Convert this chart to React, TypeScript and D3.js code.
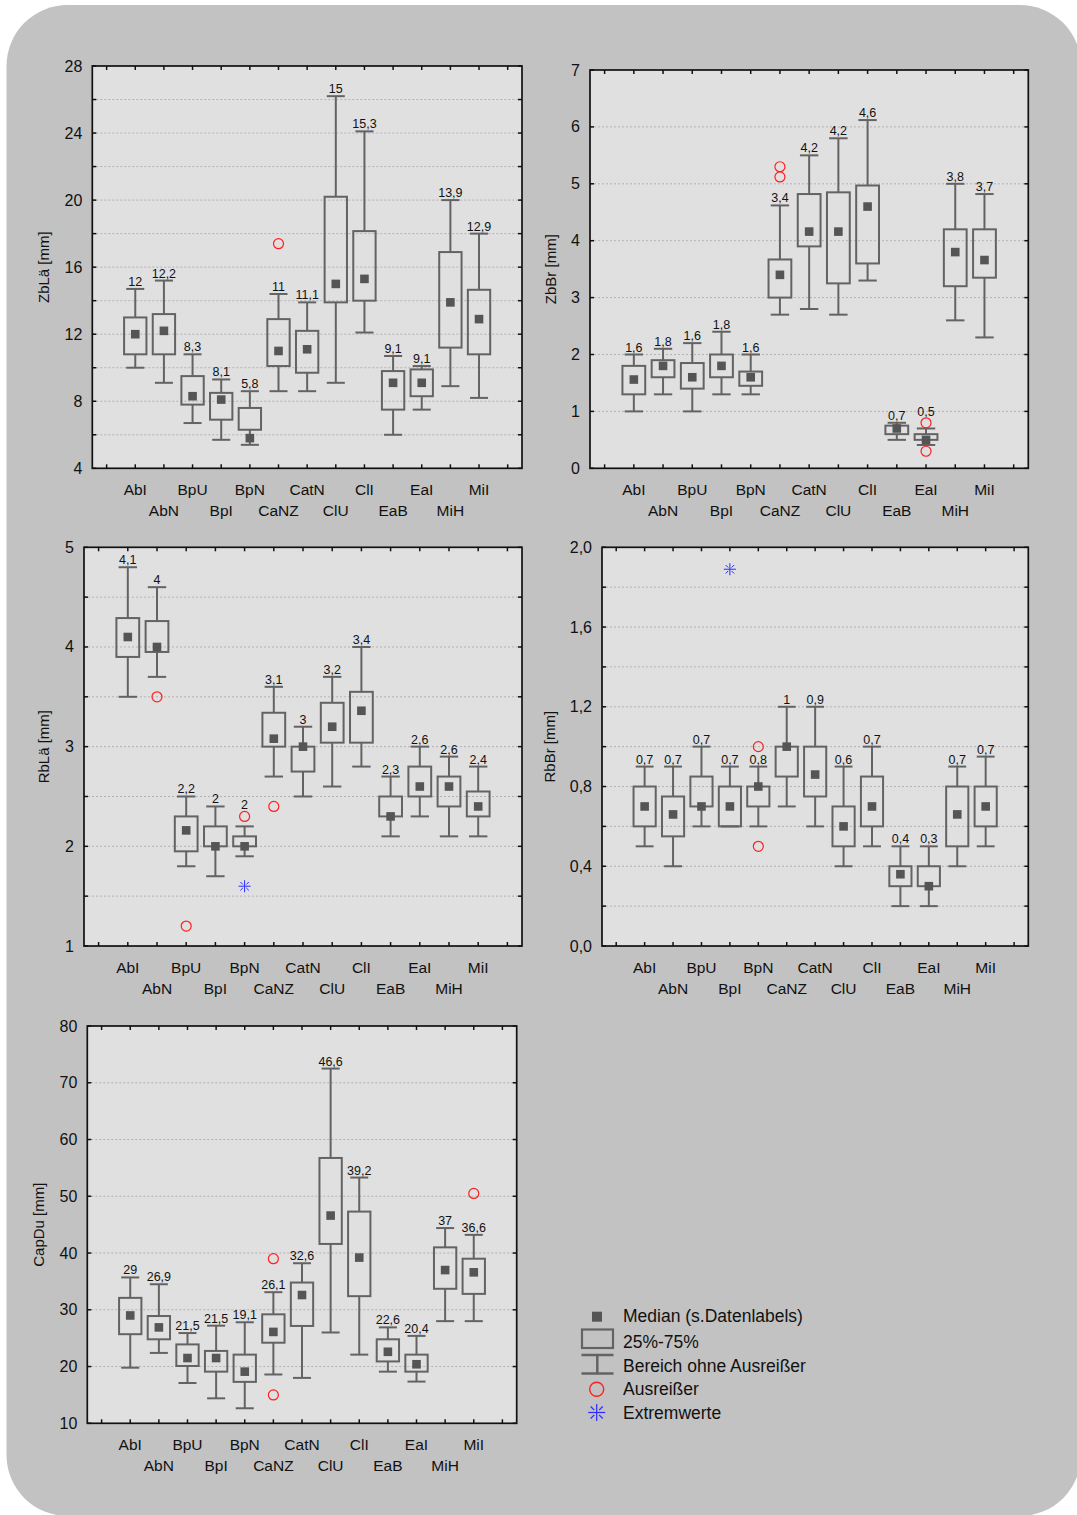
import React from "react";
import * as d3 from "d3";

const categories = ["AbI", "AbN", "BpU", "BpI", "BpN", "CaNZ", "CatN", "ClU", "ClI", "EaB", "EaI", "MiH", "MiI"];

// ZbLä [mm]
const zblaMin = [10.0, 9.1, 6.7, 5.7, 5.4, 8.6, 8.6, 9.1, 12.1, 6.0, 7.5, 8.9, 8.2];
const zblaQ1 = [10.8, 10.8, 7.8, 6.9, 6.3, 10.1, 9.7, 13.9, 14.0, 7.5, 8.3, 11.2, 10.8];
const zblaMedian = [12, 12.2, 8.3, 8.1, 5.8, 11, 11.1, 15, 15.3, 9.1, 9.1, 13.9, 12.9];
const zblaQ3 = [13.0, 13.2, 9.5, 8.5, 7.6, 12.9, 12.2, 20.2, 18.15, 9.8, 9.9, 16.9, 14.65];
const zblaMax = [14.7, 15.2, 10.8, 9.3, 8.6, 14.4, 13.9, 26.2, 24.1, 10.7, 10.1, 20.0, 18.0];
const zblaOutliers: [string, number][] = [["CaNZ", 17.4]];
const zblaExtremes: [string, number][] = [];

// ZbBr [mm]
const zbbrMin = [1.0, 1.3, 1.0, 1.3, 1.3, 2.7, 2.8, 2.7, 3.3, 0.5, 0.41, 2.6, 2.3];
const zbbrQ1 = [1.3, 1.6, 1.4, 1.6, 1.45, 3.0, 3.9, 3.25, 3.6, 0.6, 0.5, 3.2, 3.35];
const zbbrMedian = [1.56, 1.8, 1.6, 1.8, 1.6, 3.4, 4.16, 4.16, 4.6, 0.7, 0.5, 3.8, 3.66];
const zbbrQ3 = [1.8, 1.9, 1.85, 2.0, 1.7, 3.67, 4.82, 4.85, 4.97, 0.75, 0.6, 4.2, 4.2];
const zbbrMax = [2.0, 2.1, 2.2, 2.4, 2.0, 4.62, 5.5, 5.8, 6.12, 0.8, 0.7, 5.0, 4.82];
const zbbrOutliers: [string, number][] = [["CaNZ", 5.3], ["CaNZ", 5.12], ["EaI", 0.8], ["EaI", 0.3]];
const zbbrExtremes: [string, number][] = [];

// RbLä [mm]
const rblaMin = [3.5, 3.7, 1.8, 1.7, 1.9, 2.7, 2.5, 2.6, 2.8, 2.1, 2.3, 2.1, 2.1];
const rblaQ1 = [3.9, 3.95, 1.95, 2.0, 2.0, 3.0, 2.75, 3.04, 3.04, 2.3, 2.5, 2.4, 2.3];
const rblaMedian = [4.1, 4.0, 2.16, 2.0, 2.0, 3.08, 3.0, 3.2, 3.36, 2.3, 2.6, 2.6, 2.4];
const rblaQ3 = [4.29, 4.26, 2.3, 2.2, 2.1, 3.34, 3.0, 3.44, 3.55, 2.5, 2.8, 2.7, 2.55];
const rblaMax = [4.8, 4.6, 2.5, 2.4, 2.2, 3.6, 3.2, 3.7, 4.0, 2.7, 3.0, 2.9, 2.8];
const rblaOutliers: [string, number][] = [["AbN", 3.5], ["BpU", 1.2], ["BpN", 2.3], ["CaNZ", 2.4]];
const rblaExtremes: [string, number][] = [["BpN", 1.6]];

// RbBr [mm]
const rbbrMin = [0.5, 0.4, 0.6, 0.6, 0.6, 0.7, 0.6, 0.4, 0.5, 0.2, 0.2, 0.4, 0.5];
const rbbrQ1 = [0.6, 0.55, 0.7, 0.6, 0.7, 0.85, 0.75, 0.5, 0.6, 0.3, 0.3, 0.5, 0.6];
const rbbrMedian = [0.7, 0.66, 0.7, 0.7, 0.8, 1.0, 0.86, 0.6, 0.7, 0.36, 0.3, 0.66, 0.7];
const rbbrQ3 = [0.8, 0.75, 0.85, 0.8, 0.8, 1.0, 1.0, 0.7, 0.85, 0.4, 0.4, 0.8, 0.8];
const rbbrMax = [0.9, 0.9, 1.0, 0.9, 0.9, 1.2, 1.2, 0.9, 1.0, 0.5, 0.5, 0.9, 0.95];
const rbbrOutliers: [string, number][] = [["BpN", 1.0], ["BpN", 0.5]];
const rbbrExtremes: [string, number][] = [["BpI", 1.89]];

// CapDu [mm]
const capduMin = [19.8, 22.4, 17.1, 14.4, 12.65, 18.6, 18.0, 26.0, 22.1, 19.1, 17.35, 28.0, 28.0];
const capduQ1 = [25.7, 24.8, 20.1, 19.1, 17.3, 24.2, 27.15, 41.6, 32.4, 20.9, 19.1, 33.7, 32.8];
const capduMedian = [29, 26.9, 21.5, 21.5, 19.1, 26.1, 32.6, 46.6, 39.2, 22.6, 20.4, 37, 36.6];
const capduQ3 = [32.1, 28.9, 23.9, 22.75, 22.1, 29.2, 34.8, 56.75, 47.3, 24.8, 22.1, 41.0, 39.0];
const capduMax = [35.7, 34.5, 25.9, 27.2, 27.8, 33.1, 38.2, 72.5, 53.3, 26.9, 25.4, 44.4, 43.2];
const capduOutliers: [string, number][] = [["CaNZ", 39.0], ["CaNZ", 15.0], ["MiI", 50.5]];
const capduExtremes: [string, number][] = [];

const legendItems = ["Median (s.Datenlabels)", "25%-75%", "Bereich ohne Ausreißer", "Ausreißer", "Extremwerte"];

const FONT = "'Liberation Sans', Arial, sans-serif";
const BOX = "#636363";
const MED = "#555555";
const RED = "#ff1f1f";
const BLUE = "#2a2aff";

const deNum = (v: number) => String(Math.round(v * 10 + 1e-9) / 10).replace(".", ",");

type Panel = {
  title: string;
  left: number; right: number; top: number; bottom: number;
  domain: [number, number];
  labelStep: number; gridStep: number; decimals: number;
  titleX: number;
  min: number[]; q1: number[]; median: number[]; q3: number[]; max: number[];
  outliers: [string, number][]; extremes: [string, number][];
};

const panels: Panel[] = [
  { title: "ZbLä [mm]", left: 92.3, right: 522, top: 66, bottom: 468.3, domain: [4, 28], labelStep: 4, gridStep: 2, decimals: 0, titleX: 43,
    min: zblaMin, q1: zblaQ1, median: zblaMedian, q3: zblaQ3, max: zblaMax, outliers: zblaOutliers, extremes: zblaExtremes },
  { title: "ZbBr [mm]", left: 590, right: 1028.3, top: 70, bottom: 468.3, domain: [0, 7], labelStep: 1, gridStep: 1, decimals: 0, titleX: 550,
    min: zbbrMin, q1: zbbrQ1, median: zbbrMedian, q3: zbbrQ3, max: zbbrMax, outliers: zbbrOutliers, extremes: zbbrExtremes },
  { title: "RbLä [mm]", left: 84, right: 522, top: 547.3, bottom: 946, domain: [1, 5], labelStep: 1, gridStep: 0.5, decimals: 0, titleX: 43,
    min: rblaMin, q1: rblaQ1, median: rblaMedian, q3: rblaQ3, max: rblaMax, outliers: rblaOutliers, extremes: rblaExtremes },
  { title: "RbBr [mm]", left: 602, right: 1028.3, top: 547.3, bottom: 946, domain: [0, 2], labelStep: 0.4, gridStep: 0.2, decimals: 1, titleX: 549,
    min: rbbrMin, q1: rbbrQ1, median: rbbrMedian, q3: rbbrQ3, max: rbbrMax, outliers: rbbrOutliers, extremes: rbbrExtremes },
  { title: "CapDu [mm]", left: 87.3, right: 516.7, top: 1026, bottom: 1423.3, domain: [10, 80], labelStep: 10, gridStep: 10, decimals: 0, titleX: 38,
    min: capduMin, q1: capduQ1, median: capduMedian, q3: capduQ3, max: capduMax, outliers: capduOutliers, extremes: capduExtremes },
];

function Asterisk({ cx, cy, s, color, w }: { cx: number; cy: number; s: number; color: string; w: number }) {
  const d = s * 0.707;
  const inner = s * 0.4;
  const di = inner * 0.707;
  const segs: [number, number, number, number][] = [
    [cx, cy - s, cx, cy + s],
    [cx - s, cy, cx + s, cy],
    [cx - d, cy - d, cx - di, cy - di],
    [cx + d, cy - d, cx + di, cy - di],
    [cx - d, cy + d, cx - di, cy + di],
    [cx + d, cy + d, cx + di, cy + di],
  ];
  return (
    <g stroke={color} strokeWidth={w}>
      {segs.map((sg, i) => <line key={i} x1={sg[0]} y1={sg[1]} x2={sg[2]} y2={sg[3]} />)}
    </g>
  );
}

function BoxPanel({ p }: { p: Panel }) {
  const x = d3.scaleLinear().domain([-1.5, 13.5]).range([p.left, p.right]);
  const y = d3.scaleLinear().domain(p.domain).range([p.bottom, p.top]);
  const slot = x(1) - x(0);
  const bw = slot * 0.78;
  const cw = slot * 0.63;
  const n = Math.round((p.domain[1] - p.domain[0]) / p.gridStep);
  const grid = d3.range(0, n + 1).map((i) => +(p.domain[0] + i * p.gridStep).toFixed(4));
  const nl = Math.round((p.domain[1] - p.domain[0]) / p.labelStep);
  const labels = d3.range(0, nl + 1).map((i) => +(p.domain[0] + i * p.labelStep).toFixed(4));
  const xticks = d3.range(-1, 14);
  const tickLen = 4;
  const fmtTick = (v: number) => (p.decimals ? v.toFixed(p.decimals) : String(v)).replace(".", ",");
  const cy = (p.top + p.bottom) / 2;

  return (
    <g>
      <rect x={p.left} y={p.top} width={p.right - p.left} height={p.bottom - p.top} fill="#e0e0e0" />
      {grid.filter((v) => v > p.domain[0] && v < p.domain[1]).map((v) => (
        <line key={"g" + v} x1={p.left} x2={p.right} y1={y(v)} y2={y(v)} stroke="#b3b3b3" strokeWidth={1} strokeDasharray="2,2" />
      ))}
      {/* ticks on all four sides, pointing inward */}
      <g stroke="#111" strokeWidth={1.5}>
        {grid.map((v) => (
          <g key={"yt" + v}>
            <line x1={p.left} x2={p.left + tickLen} y1={y(v)} y2={y(v)} />
            <line x1={p.right} x2={p.right - tickLen} y1={y(v)} y2={y(v)} />
          </g>
        ))}
        {xticks.map((t) => (
          <g key={"xt" + t}>
            <line x1={x(t)} x2={x(t)} y1={p.bottom} y2={p.bottom - tickLen} />
            <line x1={x(t)} x2={x(t)} y1={p.top} y2={p.top + tickLen} />
          </g>
        ))}
      </g>
      <rect x={p.left} y={p.top} width={p.right - p.left} height={p.bottom - p.top} fill="none" stroke="#111" strokeWidth={1.7} />
      {labels.map((v) => (
        <text key={"yl" + v} x={p.left - 10} y={y(v)} textAnchor="end" dominantBaseline="central" fontSize={16} fill="#111">
          {fmtTick(v)}
        </text>
      ))}
      {categories.map((c, i) => (
        <text key={"xl" + c} x={x(i)} y={p.bottom + (i % 2 === 0 ? 27 : 48)} textAnchor="middle" fontSize={15.5} fill="#111">
          {c}
        </text>
      ))}
      <text transform={`translate(${p.titleX},${cy}) rotate(-90)`} textAnchor="middle" dominantBaseline="central" fontSize={15} fill="#111">
        {p.title}
      </text>
      {categories.map((c, i) => {
        const cx = x(i);
        const capTop = y(p.max[i]);
        let labelY = capTop - 3;
        p.outliers.filter((o) => o[0] === c).forEach((o) => {
          const oy = y(o[1]);
          if (oy < capTop && capTop - oy < 16) labelY = Math.min(labelY, oy - 5 - 2);
        });
        return (
          <g key={"b" + c}>
            <g stroke={BOX} strokeWidth={2} fill="none">
              <line x1={cx} x2={cx} y1={y(p.max[i])} y2={y(p.q3[i])} />
              <line x1={cx} x2={cx} y1={y(p.q1[i])} y2={y(p.min[i])} />
              <line x1={cx - cw / 2} x2={cx + cw / 2} y1={y(p.max[i])} y2={y(p.max[i])} />
              <line x1={cx - cw / 2} x2={cx + cw / 2} y1={y(p.min[i])} y2={y(p.min[i])} />
              <rect x={cx - bw / 2} y={y(p.q3[i])} width={bw} height={Math.max(0, y(p.q1[i]) - y(p.q3[i]))} />
            </g>
            <rect x={cx - 4.3} y={y(p.median[i]) - 4.3} width={8.6} height={8.6} fill={MED} />
            <text x={cx} y={labelY} textAnchor="middle" fontSize={12.5} fill="#111">
              {deNum(p.median[i])}
            </text>
          </g>
        );
      })}
      {p.outliers.map((o, k) => (
        <circle key={"o" + k} cx={x(categories.indexOf(o[0]))} cy={y(o[1])} r={5} fill="none" stroke={RED} strokeWidth={1.2} />
      ))}
      {p.extremes.map((e, k) => (
        <Asterisk key={"e" + k} cx={x(categories.indexOf(e[0]))} cy={y(e[1])} s={6} color={BLUE} w={1} />
      ))}
    </g>
  );
}

function Legend() {
  const tx = 623;
  const base = [1322, 1348, 1372, 1395, 1418.5];
  return (
    <g>
      <rect x={592} y={1311.7} width={10} height={10} fill={MED} />
      <rect x={582} y={1329.5} width={31} height={18.5} fill="none" stroke={BOX} strokeWidth={2.2} />
      <g stroke={BOX} strokeWidth={2.5}>
        <line x1={581.5} x2={613.5} y1={1355} y2={1355} />
        <line x1={581.5} x2={613.5} y1={1373.5} y2={1373.5} />
        <line x1={597.3} x2={597.3} y1={1355} y2={1373.5} />
      </g>
      <circle cx={596.7} cy={1389.3} r={7} fill="none" stroke={RED} strokeWidth={1.4} />
      <Asterisk cx={596.7} cy={1412.5} s={8.5} color={BLUE} w={1.2} />
      {legendItems.map((t, i) => (
        <text key={t} x={tx} y={base[i]} fontSize={17.5} fill="#111">{t}</text>
      ))}
    </g>
  );
}

export default function App() {
  return (
    <svg
      width={1077}
      height={1515}
      style={{ position: "absolute", left: 0, top: 0, background: "#ffffff" }}
      fontFamily={FONT}
    >
      <rect x={6.5} y={5} width={1074.5} height={1511} rx={61} ry={61} fill="#c2c2c2" />
      {panels.map((p) => <BoxPanel key={p.title} p={p} />)}
      <Legend />
    </svg>
  );
}
